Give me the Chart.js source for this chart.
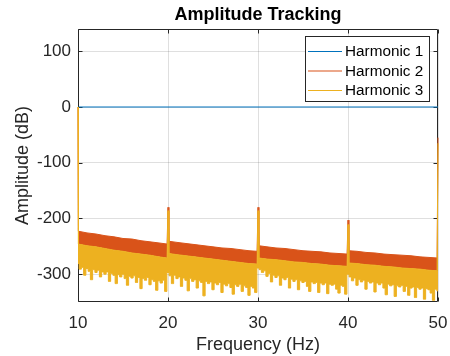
<!DOCTYPE html>
<html><head><meta charset="utf-8">
<script src="https://cdn.jsdelivr.net/npm/chart.js@4"></script>
<style>html,body{margin:0;padding:0;background:#fff}#wrap{width:450px;height:356px}</style>
</head><body><div id="wrap"><canvas id="c" width="450" height="356"></canvas></div>
<script>
// ---- data ----
const xTicks = [10, 20, 30, 40, 50];
const yTicks = [-300, -200, -100, 0, 100];
const seriesNames = ['Harmonic 1', 'Harmonic 2', 'Harmonic 3'];

const h1Freq = [10, 50];
const h1Amp = [0, 0];

// frequencies for the band envelopes (Hz)
const bandFreq = [10, 10.05, 11, 12, 13, 14, 15, 16, 17, 18, 19, 19.9, 20, 20.1,
  21, 22, 23, 24, 25, 26, 27, 28, 29, 29.9, 30, 30.1,
  31, 32, 33, 34, 35, 36, 37, 38, 39, 39.9, 40, 40.1,
  41, 42, 43, 44, 45, 46, 47, 48, 49, 49.9, 50];
// Harmonic 2: upper edge (dB)
const h2Top = [0, -223, -226, -228, -231, -233, -236, -237, -240, -242, -244, -246, -180, -241,
  -243, -245, -247, -249, -251, -253, -254, -256, -258, -259, -180, -249,
  -251, -253, -254, -256, -258, -259, -260, -262, -263, -264, -203, -258,
  -259, -261, -262, -264, -265, -266, -267, -269, -270, -271, -55];
// Harmonic 3: upper edge (dB)
const h3Top = [0, -246, -249, -251, -254, -257, -259, -262, -264, -266, -269, -271, -186, -263,
  -265, -267, -269, -271, -273, -275, -277, -279, -281, -282, -186, -271,
  -273, -274, -276, -278, -279, -281, -282, -284, -285, -286, -211, -280,
  -281, -283, -284, -286, -287, -289, -290, -291, -293, -294, -65];
// Harmonic 3: lower (noisy) edge, every 0.25 Hz from 10 to 50 Hz (dB)
const h3Bot = [
  -281,-291,-288,-302,-290,-295,-310,-292,-297,-293,
  -305,-296,-300,-296,-313,-299,-302,-317,-301,-305,
  -300,-308,-320,-304,-307,-303,-315,-306,-326,-308,
  -311,-306,-319,-310,-313,-329,-312,-316,-311,-331,
  -297,-303,-317,-302,-308,-305,-322,-307,-311,-330,
  -308,-313,-310,-325,-312,-315,-339,-313,-317,-314,
  -328,-316,-319,-315,-333,-318,-321,-317,-324,-336,
  -319,-322,-318,-331,-321,-324,-338,-322,-325,-333,
  -289,-292,-297,-294,-304,-299,-314,-302,-306,-303,
  -320,-307,-310,-306,-325,-309,-313,-310,-328,-312,
  -315,-313,-322,-331,-314,-317,-315,-333,-316,-319,
  -316,-335,-318,-320,-318,-327,-334,-320,-322,-336,
  -300,-305,-312,-307,-320,-310,-314,-311,-327,-313,
  -316,-314,-332,-316,-319,-316,-325,-337,-318,-321,
  -319,-340,-321,-323,-320,-331,-322,-338,-325,-323,
  -342,-324,-327,-325,-345,-326,-328,-334,-347,-327,
  -330];
const h3BotFreq = h3Bot.map((_, i) => 10 + i * 0.25);

const colors = ['#0072BD', '#D95319', '#EDB120'];

// ---- chart ----
const FONT = "'Liberation Sans', Arial, Helvetica, sans-serif";
Chart.defaults.font.family = FONT;
Chart.defaults.color = '#262626';

const toPts = (xs, ys) => xs.map((x, i) => ({x, y: ys[i]}));

const centerTitle = {
  id: 'centerTitle',
  afterLayout(chart) {
    const t = chart.titleBlock;
    if (t) { t.left = chart.chartArea.left; t.right = chart.chartArea.right; t.width = t.right - t.left; }
  }
};

const matlabAxes = {
  id: 'matlabAxes',
  beforeDatasetsDraw(chart) {
    const {ctx, chartArea: a, scales: {x, y}} = chart;
    const L = Math.round(a.left) + 0.5, R = Math.round(a.right) - 0.5;
    const T = Math.round(a.top) + 0.5, B = Math.round(a.bottom) - 0.5;
    ctx.save();
    ctx.strokeStyle = '#262626';
    ctx.lineWidth = 1;
    ctx.beginPath();
    ctx.moveTo(L, T); ctx.lineTo(R, T); ctx.lineTo(R, B); ctx.lineTo(L, B); ctx.closePath();
    const tl = 4;
    xTicks.forEach(v => {
      const px = Math.round(x.getPixelForValue(v)) + 0.5;
      ctx.moveTo(px, B); ctx.lineTo(px, B - tl);
      ctx.moveTo(px, T); ctx.lineTo(px, T + tl);
    });
    yTicks.forEach(v => {
      const py = Math.round(y.getPixelForValue(v)) + 0.5;
      ctx.moveTo(L, py); ctx.lineTo(L + tl, py);
      ctx.moveTo(R, py); ctx.lineTo(R - tl, py);
    });
    ctx.stroke();
    ctx.restore();
  },
  afterDraw(chart) {
    const ctx = chart.ctx;
    const bx = 305.5, by = 36.5, bw = 124, bh = 65;
    ctx.save();
    ctx.fillStyle = '#fff';
    ctx.fillRect(bx, by, bw, bh);
    ctx.strokeStyle = '#262626';
    ctx.lineWidth = 1;
    ctx.strokeRect(bx, by, bw, bh);
    ctx.font = '15.3px ' + FONT;
    ctx.textBaseline = 'middle';
    ctx.textAlign = 'left';
    const rows = [51, 70.5, 90];
    seriesNames.forEach((name, i) => {
      ctx.strokeStyle = colors[i];
      ctx.lineWidth = 1.2;
      ctx.beginPath();
      ctx.moveTo(308, rows[i] + 0.5); ctx.lineTo(342, rows[i] + 0.5);
      ctx.stroke();
      ctx.fillStyle = '#000';
      ctx.fillText(name, 345, rows[i] + 1);
    });
    ctx.restore();
  }
};

new Chart(document.getElementById('c'), {
  type: 'line',
  data: {
    datasets: [
      { label: seriesNames[0], data: toPts(h1Freq, h1Amp), borderColor: colors[0], borderWidth: 1.2, fill: false, order: 4 },
      { label: seriesNames[1], data: toPts(bandFreq, h2Top), borderColor: colors[1], backgroundColor: colors[1], borderWidth: 1, fill: 2, order: 3, clip: 2 },
      { label: seriesNames[2], data: toPts(bandFreq, h3Top), borderColor: colors[2], backgroundColor: colors[2], borderWidth: 1, fill: 3, order: 2, clip: 2 },
      { label: seriesNames[2] + ' (lower)', data: toPts(h3BotFreq, h3Bot), borderColor: colors[2], backgroundColor: colors[2], borderWidth: 1, fill: false, order: 1, stepped: 'middle', clip: 2 }
    ]
  },
  options: {
    responsive: false,
    animation: false,
    devicePixelRatio: 1,
    layout: { padding: { left: 0, right: 12, top: 0, bottom: 0 } },
    elements: { point: { radius: 0, hoverRadius: 0 }, line: { tension: 0 } },
    plugins: {
      legend: { display: false },
      tooltip: { enabled: false },
      title: {
        display: true, text: 'Amplitude Tracking', color: '#000',
        font: { size: 18, weight: 'bold', family: FONT, lineHeight: 1.2 },
        padding: { top: 4, bottom: 3.4 }
      }
    },
    scales: {
      x: {
        type: 'linear', min: 10, max: 50,
        afterBuildTicks: s => { s.ticks = xTicks.map(v => ({value: v})); },
        afterFit: s => { s.height = 54; s.paddingLeft = 0; s.paddingRight = 0; },
        grid: { color: 'rgba(38,38,38,0.15)', drawTicks: false, lineWidth: 1 },
        border: { display: false },
        ticks: { padding: 11, font: { size: 17 }, color: '#262626', maxRotation: 0, callback: v => String(v) },
        title: { display: true, text: 'Frequency (Hz)', font: { size: 18 }, color: '#262626', padding: { top: 0, bottom: 0 } }
      },
      y: {
        type: 'linear', min: -350, max: 140,
        afterBuildTicks: s => { s.ticks = yTicks.map(v => ({value: v})); },
        afterFit: s => { s.width = 78; s.paddingTop = 0; s.paddingBottom = 0; },
        grid: { color: 'rgba(38,38,38,0.15)', drawTicks: false, lineWidth: 1 },
        border: { display: false },
        ticks: { padding: 7, font: { size: 17 }, color: '#262626', callback: v => String(v) },
        title: { display: true, text: 'Amplitude (dB)', font: { size: 18 }, color: '#262626', padding: { top: 12, bottom: 0 } }
      }
    }
  },
  plugins: [centerTitle, matlabAxes]
});
</script>
</body></html>
